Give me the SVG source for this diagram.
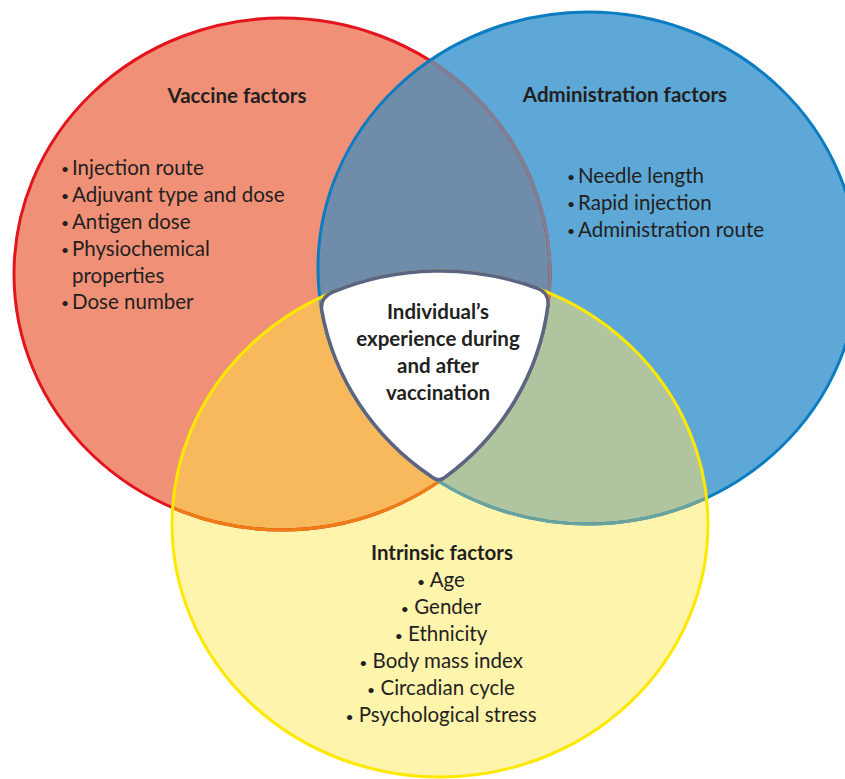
<svg xmlns="http://www.w3.org/2000/svg" width="845" height="779" viewBox="0 0 845 779">
  <style>
    .t { font-family: Lato, "Open Sans", "Liberation Sans", sans-serif; font-size: 20.5px; fill: #231f20; }
    .b { font-weight: bold; }
    .c { text-anchor: middle; }
    .u { font-size: 14px; }
  </style>
  <defs>
    <ellipse id="eR" cx="282" cy="274" rx="268" ry="256"/>
    <ellipse id="eB" cx="588" cy="268" rx="270" ry="256"/>
    <ellipse id="eY" cx="440" cy="524" rx="268" ry="253"/>
    <clipPath id="cR"><use href="#eR"/></clipPath>
    <clipPath id="cB"><use href="#eB"/></clipPath>
    <clipPath id="cY"><use href="#eY"/></clipPath>
  </defs>
  <rect width="845" height="779" fill="#ffffff"/>

  <g id="fills">
    <use href="#eR" fill="#F09177"/>
    <use href="#eB" fill="#5DA8D6"/>
    <use href="#eB" fill="#6F8DAA" clip-path="url(#cR)"/>
    <use href="#eY" fill="#FFF4AC"/>
    <use href="#eY" fill="#F7B95B" clip-path="url(#cR)"/>
    <use href="#eY" fill="#B0C49F" clip-path="url(#cB)"/>
  </g>

  <g id="outlines" fill="none" stroke-width="3">
    <use href="#eR" stroke="#E3141E"/>
    <use href="#eR" stroke="#7E8296" clip-path="url(#cB)"/>
    <use href="#eR" stroke="#EE7E14" clip-path="url(#cY)"/>
    <use href="#eB" stroke="#0B7CC1"/>
    <use href="#eB" stroke="#6AA39C" clip-path="url(#cY)"/>
    <use href="#eY" stroke="#FFE800"/>
  </g>

  <g id="vaccine-factors">
    <text class="t b c" x="237" y="103">Vaccine factors</text>
    <text class="t u" x="61" y="174">•</text><text class="t" x="72" y="175">Injection route</text>
    <text class="t u" x="61" y="201">•</text><text class="t" x="72" y="202">Adjuvant type and dose</text>
    <text class="t u" x="61" y="228">•</text><text class="t" x="72" y="229">Antigen dose</text>
    <text class="t u" x="61" y="255">•</text><text class="t" x="72" y="256">Physiochemical</text>
    <text class="t" x="72" y="283">properties</text>
    <text class="t u" x="61" y="308">•</text><text class="t" x="72" y="309">Dose number</text>
  </g>

  <g id="administration-factors">
    <text class="t b c" x="625" y="102">Administration factors</text>
    <text class="t u" x="567" y="182">•</text><text class="t" x="578" y="183">Needle length</text>
    <text class="t u" x="567" y="209">•</text><text class="t" x="578" y="210">Rapid injection</text>
    <text class="t u" x="567" y="236">•</text><text class="t" x="578" y="237">Administration route</text>
  </g>

  <g id="intrinsic-factors">
    <text class="t b c" x="442" y="560">Intrinsic factors</text>
    <text class="t c" x="441" y="587"><tspan class="u">•</tspan> Age</text>
    <text class="t c" x="441" y="614"><tspan class="u">•</tspan> Gender</text>
    <text class="t c" x="441" y="641"><tspan class="u">•</tspan> Ethnicity</text>
    <text class="t c" x="441" y="668"><tspan class="u">•</tspan> Body mass index</text>
    <text class="t c" x="441" y="695"><tspan class="u">•</tspan> Circadian cycle</text>
    <text class="t c" x="441" y="722"><tspan class="u">•</tspan> Psychological stress</text>
  </g>

  <g id="center">
    <path d="M 332 292.4 A 268 253 0 0 1 538 288.5 Q 549 293 548 305 A 268 256 0 0 1 446 476.5 Q 438.5 483 431 476.3 A 270 256 0 0 1 321.7 310 Q 320 298 332 292.4 Z" fill="#ffffff" stroke="#5B6582" stroke-width="3.5" stroke-linejoin="round"/>
    <text class="t b c" x="438" y="319">Individual’s</text>
    <text class="t b c" x="438" y="346">experience during</text>
    <text class="t b c" x="438" y="373">and after</text>
    <text class="t b c" x="438" y="400">vaccination</text>
  </g>
</svg>
